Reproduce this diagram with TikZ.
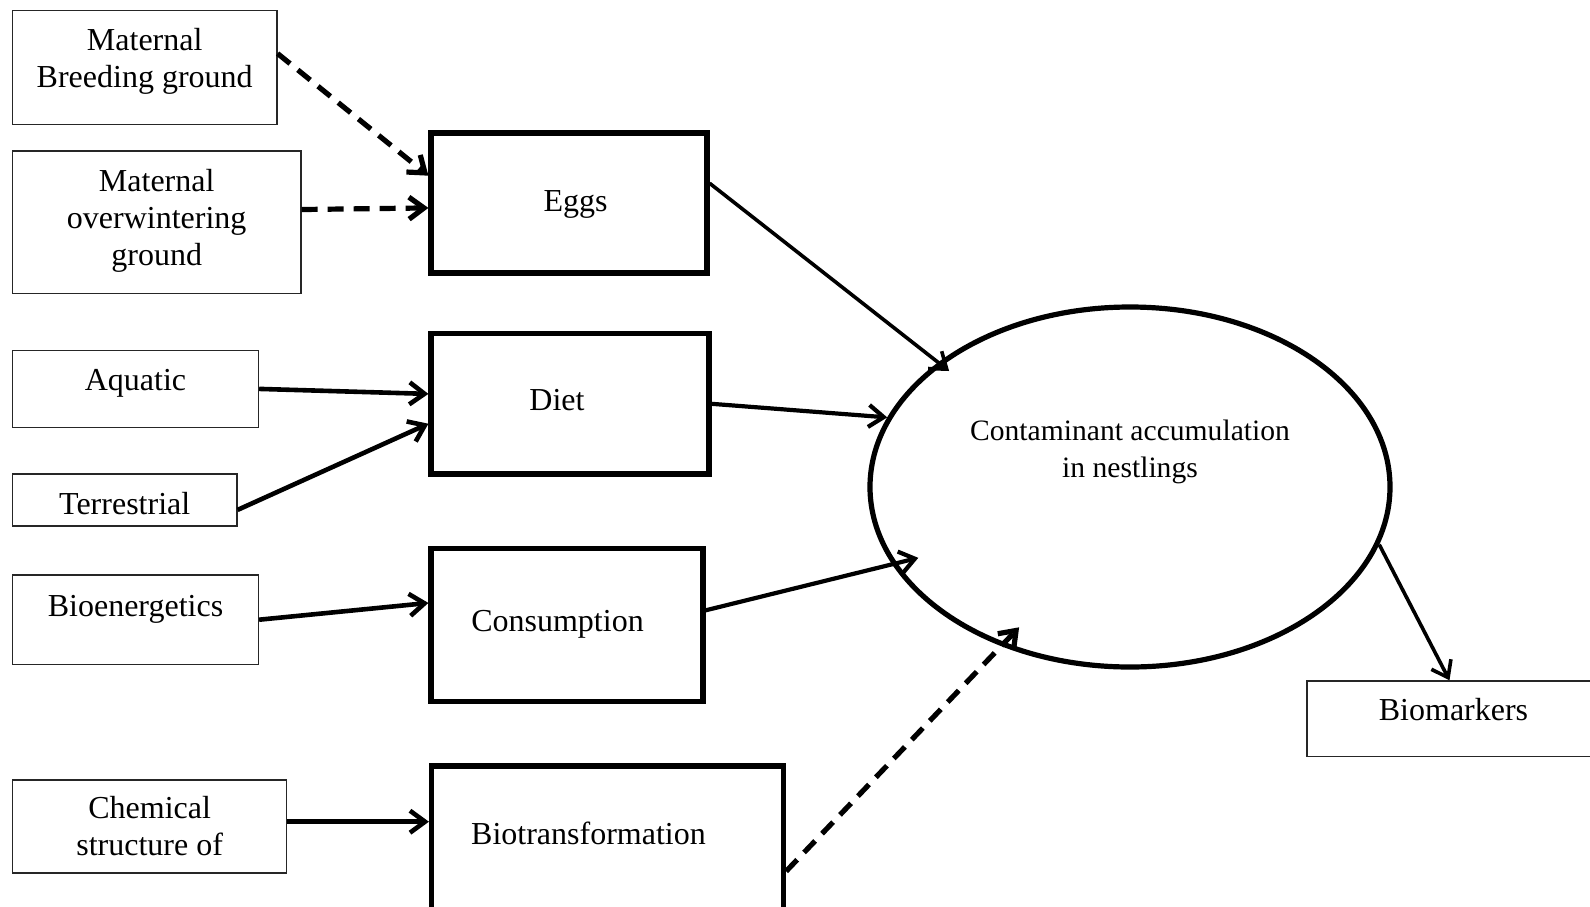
\documentclass[tikz,border=0pt]{standalone}
\usepackage{fontspec}
\setmainfont{Liberation Serif}
\usepackage{tikz}
\usetikzlibrary{shapes.geometric, arrows.meta, positioning, calc}
\tikzstyle{srcbox} = [rectangle, draw=black!85, line width=0.6pt, inner sep=1pt, align=center]
\tikzstyle{midbox} = [rectangle, draw=black, line width=2.6pt, inner sep=1pt, align=center]
\tikzstyle{sink}   = [ellipse, draw=black, line width=2.6pt, inner sep=1pt, align=center]
\tikzstyle{arrow}  = [line width=2.3pt, -{Straight Barb[length=7.5pt, width=11pt]}]
\tikzstyle{dasharrow} = [arrow, line width=2.6pt, dash pattern=on 8pt off 5pt]
% text placement inside a box: shift, height of first line, depth of last line
\tikzset{txt/.style n args={3}{execute at begin node={\rule{0pt}{#2}},
    execute at end node={\rule[-#3]{0pt}{#3}\hspace*{#1}}}}

\begin{document}
\begin{tikzpicture}[x=0.5pt, y=-0.5pt, every node/.style={font=\fontsize{16pt}{18.5pt}\selectfont}]
  \useasboundingbox (0,0) rectangle (1590,906);

  % Sources
  \node[srcbox, minimum width=132.3pt, minimum height=56.8pt, txt={0pt}{11pt}{9.7pt}] (breeding) at (144.7,67.5) {Maternal\\Breeding ground};
  \node[srcbox, minimum width=144.3pt, minimum height=71.2pt, txt={0pt}{11pt}{4.9pt}] (winter) at (156.7,222.2) {Maternal\\overwintering\\ground};
  \node[srcbox, minimum width=123.1pt, minimum height=38.2pt, txt={0pt}{11pt}{9.8pt}] (aquatic) at (135.5,388.9) {Aquatic};
  \node[srcbox, minimum width=112.3pt, minimum height=26pt, txt={0pt}{18.1pt}{3.5pt}] (terr) at (124.7,500) {Terrestrial};
  \node[srcbox, minimum width=123pt, minimum height=44.7pt, txt={0pt}{11pt}{14.5pt}] (bioen) at (135.5,619.7) {Bioenergetics};
  \node[srcbox, minimum width=136.9pt, minimum height=46.5pt, txt={0pt}{22.7pt}{0.5pt}] (chem) at (149.7,826.5) {Chemical\\structure of};

  % Pathways
  \node[midbox, minimum width=138pt, minimum height=70pt, txt={-6.5pt}{12.2pt}{3.5pt}] (eggs) at (569,203) {Eggs};
  \node[midbox, minimum width=139pt, minimum height=70.2pt, txt={13pt}{11pt}{4.5pt}] (diet) at (570,403.8) {Diet};
  \node[midbox, minimum width=136pt, minimum height=76.2pt, txt={9.5pt}{11pt}{4.3pt}] (consum) at (567,624.9) {Consumption};
  \node[midbox, minimum width=176pt, minimum height=77pt, txt={19pt}{11pt}{9.7pt}] (biotrans) at (607.5,843) {Biotransformation};

  % Nestlings and outcome
  \node[sink, minimum width=260pt, minimum height=180pt, font=\fontsize{14.8pt}{18.3pt}\selectfont, txt={0pt}{11pt}{38.5pt}] (accum) at (1130,487) {Contaminant accumulation\\in nestlings};
  \node[srcbox, minimum width=146.5pt, minimum height=37.9pt, txt={0pt}{11pt}{9.3pt}] (biomark) at (1453.5,718.8) {Biomarkers};

  % Arrows
  \draw[dasharrow] (breeding.6.8) -- (eggs.169.9);
  \draw[dasharrow] (winter.5.6) -- (eggs.182.1);
  \draw[arrow] (aquatic.east) -- (diet.176);
  \draw[arrow] (terr.-5.9) -- (diet.188);
  \draw[arrow] (bioen.east) -- (consum.171.9);
  \draw[arrow] (chem.2.7) -- (chem.2.7 -| biotrans.west);
  \draw[arrow, line width=1.8pt, shorten >=-7pt] (eggs.8.45) -- (accum.147.5);
  \draw[arrow, line width=2.1pt] (diet.east) -- (accum.164.7);
  \draw[arrow, line width=2.1pt, shorten >=-13.5pt] (consum.6) -- (accum.198.4);
  \draw[dasharrow, shorten >=-13pt] (biotrans.-9.4) -- (accum.231.6);
  \draw[arrow, line width=1.8pt] (accum.-13.2) -- (biomark.96);

\end{tikzpicture}
\end{document}
